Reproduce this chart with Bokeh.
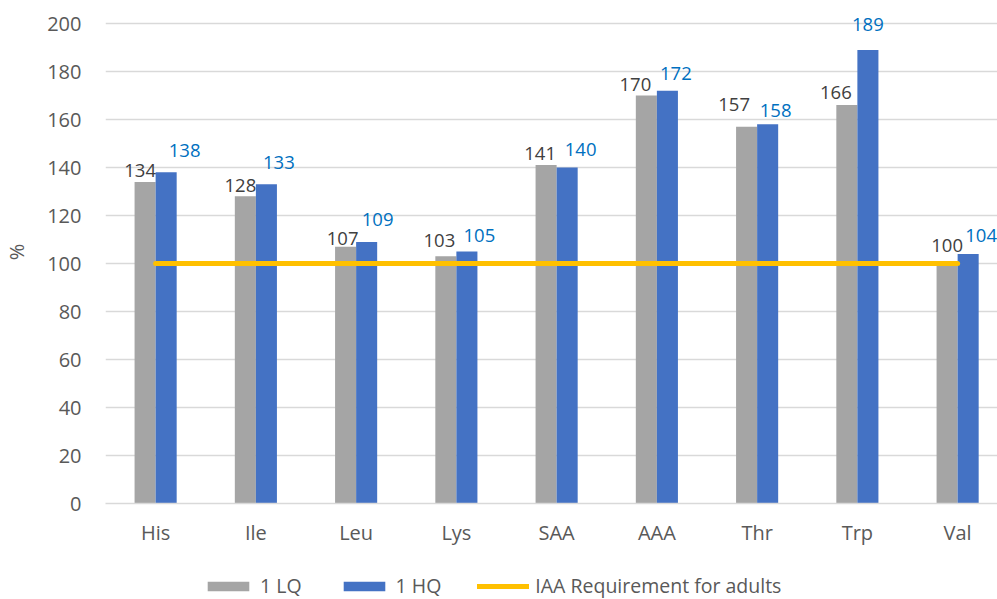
from bokeh.plotting import figure
from bokeh.layouts import column
from bokeh.models import Range1d, FixedTicker, ColumnDataSource, Legend, LegendItem
from bokeh.core.properties import value
from bokeh.embed import file_html
from bokeh.resources import INLINE

# ---- data ----
categories = ["His", "Ile", "Leu", "Lys", "SAA", "AAA", "Thr", "Trp", "Val"]
lq_values = [134, 128, 107, 103, 141, 170, 157, 166, 100]
hq_values = [138, 133, 109, 105, 140, 172, 158, 189, 104]
requirement = 100
y_ticks = [0, 20, 40, 60, 80, 100, 120, 140, 160, 180, 200]
series_names = ["1 LQ", "1 HQ", "IAA Requirement for adults"]

# ---- styling: data-label nudges in screen pixels (dx right, dy up) ----
lq_label_dx = [-5, -5, -3, -6.5, -6, -11, -12.5, -11, 0]
lq_label_dy = [11.5, 10.5, 8.5, 16, 12, 11, 22, 12.5, 18.5]
hq_label_dx = [18.5, 12.5, 11, 12.5, 13.5, 8.5, 8, 0, 13]
hq_label_dy = [22, 21.5, 22, 16, 18, 17.5, 13.5, 25, 18]

GRAY = "#A5A5A5"
BLUE = "#4472C4"
ORANGE = "#FFC000"
TXT = "#595959"
FONT = "Open Sans"
BAR_W = 0.21

LEFT, BOTTOM = 96, 56
FRAME_W = 893
PX_X = 100.25      # pixels per category
PX_Y = 2.4         # pixels per percent
TOP_PAD = 23       # pixels above the 200 gridline (kept inside the frame)
FRAME_H = int(200 * PX_Y + TOP_PAD)
LEGEND_H = 40

xs = list(range(len(categories)))

p = figure(frame_width=FRAME_W, frame_height=FRAME_H,
           output_backend="svg", toolbar_location=None,
           x_range=Range1d(-0.5, -0.5 + FRAME_W / PX_X),
           y_range=Range1d(0, 200 + TOP_PAD / PX_Y),
           min_border_left=LEFT, min_border_right=0, min_border_top=0,
           min_border_bottom=BOTTOM, title=None)
p.outline_line_color = None
p.background_fill_color = "white"
p.border_fill_color = "white"

# grid
p.xgrid.grid_line_color = None
p.ygrid.ticker = FixedTicker(ticks=y_ticks)
p.ygrid.grid_line_color = "#D9D9D9"
p.ygrid.grid_line_width = 1.3

# axes
p.yaxis.ticker = FixedTicker(ticks=y_ticks)
p.yaxis.axis_line_color = None
p.yaxis.major_tick_line_color = None
p.yaxis.minor_tick_line_color = None
p.yaxis.major_tick_out = 0
p.yaxis.major_label_standoff = 24
p.yaxis.major_label_text_font = FONT
p.yaxis.major_label_text_font_size = "20px"
p.yaxis.major_label_text_color = TXT
p.yaxis.axis_label = "%"
p.yaxis.axis_label_text_font = FONT
p.yaxis.axis_label_text_font_size = "20px"
p.yaxis.axis_label_text_font_style = "normal"
p.yaxis.axis_label_text_color = TXT
p.yaxis.axis_label_standoff = 14

p.xaxis.ticker = FixedTicker(ticks=xs)
p.xaxis.major_label_overrides = {i: c for i, c in zip(xs, categories)}
p.xaxis.axis_line_color = "#D9D9D9"
p.xaxis.axis_line_width = 1.3
p.xaxis.major_tick_line_color = None
p.xaxis.minor_tick_line_color = None
p.xaxis.major_tick_out = 0
p.xaxis.major_label_standoff = 15
p.xaxis.major_label_text_font = FONT
p.xaxis.major_label_text_font_size = "20px"
p.xaxis.major_label_text_color = TXT

# bars
src = ColumnDataSource(dict(
    x=xs,
    x_lq=[x - BAR_W / 2 for x in xs],
    x_hq=[x + BAR_W / 2 for x in xs],
    lq=lq_values, hq=hq_values,
    lq_txt=[str(v) for v in lq_values], hq_txt=[str(v) for v in hq_values],
    lq_dx=lq_label_dx, lq_dy=[-d for d in lq_label_dy],
    hq_dx=hq_label_dx, hq_dy=[-d for d in hq_label_dy],
))
req_src = ColumnDataSource(dict(x=[xs[0], xs[-1]], y=[requirement, requirement]))

bar_lq = dict(x="x_lq", top="lq", bottom=0, width=BAR_W, source=src,
              fill_color=GRAY, line_color=None)
bar_hq = dict(x="x_hq", top="hq", bottom=0, width=BAR_W, source=src,
              fill_color=BLUE, line_color=None)
req_line = dict(x="x", y="y", source=req_src, line_color=ORANGE,
                line_width=5, line_cap="round")

p.vbar(**bar_lq)
p.vbar(**bar_hq)
p.line(**req_line)

# data labels
p.text(x="x_lq", y="lq", text="lq_txt", source=src, x_offset="lq_dx", y_offset="lq_dy",
       text_align="center", text_baseline="middle", text_font=value(FONT),
       text_font_size="18.5px", text_color="#404040")
p.text(x="x_hq", y="hq", text="hq_txt", source=src, x_offset="hq_dx", y_offset="hq_dy",
       text_align="center", text_baseline="middle", text_font=value(FONT),
       text_font_size="18.5px", text_color="#0070C0")

# ---- legend strip under the chart (same series, viewed out of range so only the keys show) ----
lg = figure(width=LEFT + FRAME_W, height=LEGEND_H, output_backend="svg",
            toolbar_location=None, x_axis_type=None, y_axis_type=None,
            x_range=Range1d(-1000, -999), y_range=Range1d(-1000, -999),
            min_border=0, title=None)
lg.outline_line_color = None
lg.background_fill_color = "white"
lg.border_fill_color = "white"
k_lq = lg.vbar(**bar_lq)
k_hq = lg.vbar(**bar_hq)
k_req = lg.line(**req_line)

legend = Legend(items=[
    LegendItem(label=series_names[0], renderers=[k_lq]),
    LegendItem(label=series_names[1], renderers=[k_hq]),
    LegendItem(label=series_names[2], renderers=[k_req]),
], orientation="horizontal", location=(97, 0))
legend.border_line_color = None
legend.background_fill_alpha = 0
legend.padding = 0
legend.margin = 0
legend.spacing = 36
legend.glyph_width = 52
legend.glyph_height = 12
legend.label_standoff = 6
legend.label_text_font = FONT
legend.label_text_font_size = "19.5px"
legend.label_text_color = TXT
lg.add_layout(legend)

layout = column(p, lg, spacing=0)
open("out.html", "w").write(file_html(layout, INLINE))
